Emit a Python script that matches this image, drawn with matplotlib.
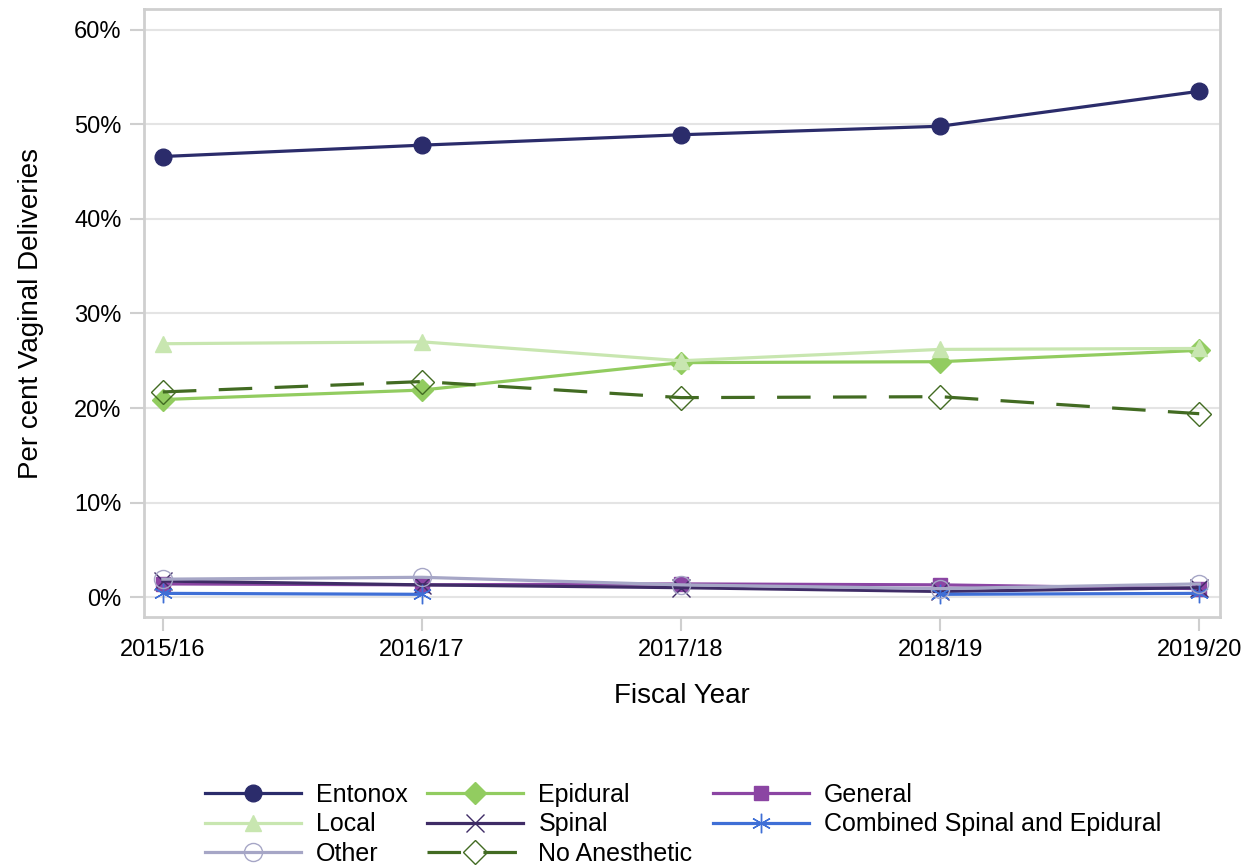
import numpy as np
import matplotlib
matplotlib.use("Agg")
import matplotlib.pyplot as plt
from matplotlib.ticker import FuncFormatter

plt.rcParams['font.family'] = ['Liberation Sans', 'DejaVu Sans']

years = ["2015/16", "2016/17", "2017/18", "2018/19", "2019/20"]
entonox = [46.6, 47.8, 48.9, 49.8, 53.5]
epidural = [20.9, 21.9, 24.8, 24.9, 26.1]
general = [1.4, 1.3, 1.4, 1.3, 0.9]
local = [26.8, 27.0, 25.0, 26.2, 26.3]
spinal = [1.7, 1.3, 1.0, 0.6, 1.0]
cse = [0.4, 0.3, np.nan, 0.3, 0.4]
other = [1.9, 2.1, 1.3, 0.9, 1.4]
no_anesthetic = [21.7, 22.8, 21.1, 21.2, 19.4]
y_ticks = [0, 10, 20, 30, 40, 50, 60]

fig = plt.figure(figsize=(12.56, 8.65), dpi=100)
ax = fig.add_axes([0.1146, 0.2867, 0.8567, 0.7029])

x = np.arange(len(years))
lw = 2.3
series = [
    ("Entonox", entonox, dict(color="#2b2c6b", marker="o", ms=12, mfc="#2b2c6b", mec="#2b2c6b")),
    ("Epidural", epidural, dict(color="#92cc60", marker="D", ms=11, mfc="#92cc60", mec="#92cc60")),
    ("General", general, dict(color="#8b45a3", marker="s", ms=10, mfc="#8b45a3", mec="#8b45a3")),
    ("Local", local, dict(color="#c8e6b0", marker="^", ms=12, mfc="#c8e6b0", mec="#c8e6b0")),
    ("Spinal", spinal, dict(color="#3f2c66", marker="x", ms=13, mew=1.0)),
    ("Combined Spinal and Epidural", cse, dict(color="#3f6fd6", marker=(6, 2, 0), ms=14, mew=1.0)),
    ("Other", other, dict(color="#a6a6c6", marker="o", ms=13, mfc="none", mec="#a6a6c6", mew=1.0)),
    ("No Anesthetic", no_anesthetic, dict(color="#426b22", marker="D", ms=12, mfc="none", mec="#426b22", mew=1.0, dashes=(10.5, 7))),
]

handles = {}
for i, (name, vals, kw) in enumerate(series):
    h, = ax.plot(x, vals, lw=lw, label=name, zorder=3 + i, clip_on=False, **kw)
    handles[name] = h

ax.set_xlim(-0.073, 4.08)
ax.set_ylim(-2.1, 62.2)
ax.set_xticks(x)
ax.set_xticklabels(years)
ax.set_yticks(y_ticks)
ax.yaxis.set_major_formatter(FuncFormatter(lambda v, p: f"{v:.0f}%"))
ax.grid(axis="y", color="#e4e4e4", lw=1.5, zorder=0)
ax.set_axisbelow(True)
for s in ax.spines.values():
    s.set_color("#cfcfcf")
    s.set_linewidth(2)
ax.tick_params(axis="both", colors="#cfcfcf", width=1.5, length=10, labelcolor="black", labelsize=17)
ax.tick_params(axis="x", pad=6)
ax.tick_params(axis="y", pad=6)
ax.set_xlabel("Fiscal Year", fontsize=20, labelpad=16)
ax.set_ylabel("Per cent Vaginal Deliveries", fontsize=20, labelpad=22)

order = ["Entonox", "Local", "Other", "Epidural", "Spinal", "No Anesthetic",
         "General", "Combined Spinal and Epidural"]
leg = fig.legend([handles[n] for n in order], order, ncol=3, frameon=False,
                 loc="upper left", bbox_to_anchor=(0.163, 0.095), fontsize=18,
                 handlelength=3.84, handletextpad=0.6, columnspacing=0.8,
                 labelspacing=0.22, borderaxespad=0, borderpad=0)

fig.savefig("out.png", dpi=100)
